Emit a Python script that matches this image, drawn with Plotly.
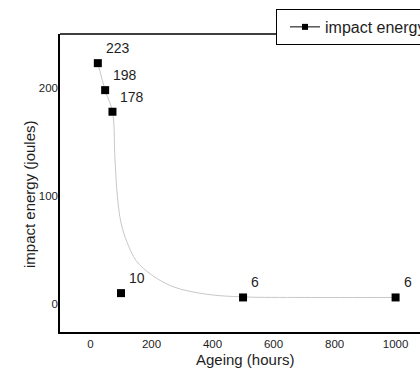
import plotly.graph_objects as go

ageing_hours = [24, 48, 72, 100, 500, 1000]
impact_energy = [223, 198, 178, 10, 6, 6]
value_labels = ["223", "198", "178", "10", "6", "6"]

curve_x = [24, 48, 72, 80, 88, 100, 120, 150, 200, 270, 380, 500, 700, 1000]
curve_y = [223, 198, 178, 135, 100, 75, 57, 40, 27, 16, 9, 6.5, 6, 6]

x_ticks = [0, 200, 400, 600, 800, 1000]
y_ticks = [0, 100, 200]

FONT = "Liberation Sans, Arial, sans-serif"
TXT = "#1e1e1e"

fig = go.Figure()
fig.add_trace(go.Scatter(x=curve_x, y=curve_y, mode="lines",
                         line=dict(color="#c8c8c8", width=1, shape="spline", smoothing=1.0),
                         showlegend=False, hoverinfo="skip"))
fig.add_trace(go.Scatter(x=ageing_hours, y=impact_energy, mode="markers",
                         marker=dict(symbol="square", size=8, color="black"),
                         showlegend=False))
fig.add_trace(go.Scatter(x=[None], y=[None], mode="lines+markers", name="impact energy",
                         line=dict(color="black", width=1),
                         marker=dict(symbol="square", size=6, color="black")))

for xv, yv, t in zip(ageing_hours, impact_energy, value_labels):
    fig.add_annotation(x=xv, y=yv, text=t, showarrow=False, xanchor="left", yanchor="middle",
                       xshift=6, yshift=15, font=dict(family=FONT, size=14, color=TXT))

# axis titles
fig.add_annotation(xref="paper", yref="paper", x=0.514, y=0, yshift=-27.5,
                   xanchor="center", yanchor="middle", showarrow=False,
                   text="Ageing (hours)", font=dict(family=FONT, size=15, color=TXT))
fig.add_annotation(xref="paper", yref="paper", x=0, xshift=-31, y=0.463,
                   xanchor="center", yanchor="middle", showarrow=False, textangle=-90,
                   text="impact energy (joules)", font=dict(family=FONT, size=15, color=TXT))

# top frame line
fig.add_shape(type="line", xref="paper", yref="paper", x0=0, x1=1, y0=1, y1=1,
              line=dict(color="black", width=1.5))

fig.update_layout(
    width=420, height=369,
    margin=dict(l=60, r=0, t=34, b=37, autoexpand=False),
    paper_bgcolor="white", plot_bgcolor="white",
    font=dict(family=FONT, color=TXT),
    xaxis=dict(range=[-100, 1080], tickvals=x_ticks, showgrid=False, zeroline=False,
               showline=True, linecolor="black", linewidth=1.5, mirror=False, automargin=False,
               ticks="", tickfont=dict(size=11.5, family=FONT, color=TXT)),
    yaxis=dict(range=[-26, 250], tickvals=y_ticks, showgrid=False, zeroline=False,
               showline=True, linecolor="black", linewidth=1.5, mirror=False, automargin=False,
               ticks="", tickfont=dict(size=11.5, family=FONT, color=TXT), ticklabelstandoff=-2),
    legend=dict(x=0.6, y=1.084, xanchor="left", yanchor="top", bordercolor="black", borderwidth=1,
                font=dict(size=16, family=FONT, color=TXT), bgcolor="white",
                tracegroupgap=0, itemwidth=30, indentation=8),
    showlegend=True,
)

fig.write_html("out.html", config={"displayModeBar": False},
               post_script="document.body.style.margin='0';document.body.style.overflow='hidden';")
